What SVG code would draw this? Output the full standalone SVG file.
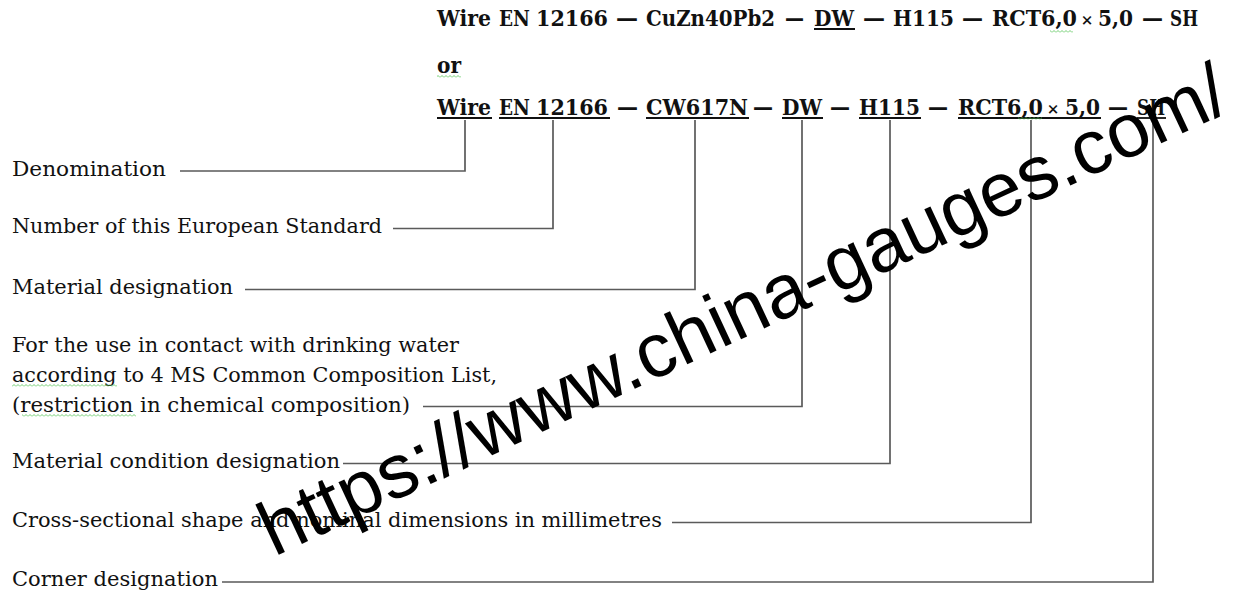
<svg xmlns="http://www.w3.org/2000/svg" width="1235" height="594" viewBox="0 0 1235 594">
<defs>
<style>
.b{font-family:"DejaVu Serif","Liberation Serif",serif;font-weight:bold;font-size:22px;fill:#111}
.r{font-family:"DejaVu Serif","Liberation Serif",serif;font-size:21px;fill:#111}
.x{font-family:"DejaVu Serif","Liberation Serif",serif;font-weight:bold;font-size:15px;fill:#111;text-anchor:middle}
.ul{stroke:#111;stroke-width:1.8}
.c{fill:none;stroke:#5a5a5a;stroke-width:1.7}
.wm{font-family:"Liberation Sans",Arial,sans-serif;font-size:76.5px;fill:#000}
</style>
<pattern id="sq" width="4" height="3" patternUnits="userSpaceOnUse">
<polyline points="0,2.5 2,0.5 4,2.5" fill="none" stroke="#4cc24c" stroke-width="0.8"/>
</pattern>
</defs>
<rect width="1235" height="594" fill="#fff"/>
<g id="designation-line-1">
<text class="b" x="437" y="26" textLength="54" lengthAdjust="spacingAndGlyphs">Wire</text>
<text class="b" x="499" y="26" textLength="31" lengthAdjust="spacingAndGlyphs">EN</text>
<text class="b" x="536" y="26" textLength="72" lengthAdjust="spacingAndGlyphs">12166</text>
<text class="b" x="616" y="26" textLength="22" lengthAdjust="spacingAndGlyphs">—</text>
<text class="b" x="646" y="26" textLength="129" lengthAdjust="spacingAndGlyphs">CuZn40Pb2</text>
<text class="b" x="785" y="26" textLength="19" lengthAdjust="spacingAndGlyphs">—</text>
<text class="b" x="814" y="26" textLength="40" lengthAdjust="spacingAndGlyphs">DW</text>
<line class="ul" x1="814" y1="29" x2="855" y2="29"/>
<text class="b" x="863" y="26" textLength="22" lengthAdjust="spacingAndGlyphs">—</text>
<text class="b" x="893" y="26" textLength="61" lengthAdjust="spacingAndGlyphs">H115</text>
<text class="b" x="962" y="26" textLength="21" lengthAdjust="spacingAndGlyphs">—</text>
<text class="b" x="992" y="26" textLength="85" lengthAdjust="spacingAndGlyphs">RCT6,0</text>
<text class="x" x="1087" y="25">×</text>
<text class="b" x="1098" y="26" textLength="35" lengthAdjust="spacingAndGlyphs">5,0</text>
<text class="b" x="1142" y="26" textLength="21" lengthAdjust="spacingAndGlyphs">—</text>
<text class="b" x="1170" y="26" textLength="28" lengthAdjust="spacingAndGlyphs">SH</text>
<rect x="1050" y="30" width="23" height="3" fill="url(#sq)"/>
</g>
<g id="or">
<text class="b" x="437" y="73" textLength="24" lengthAdjust="spacingAndGlyphs">or</text>
<rect x="437" y="75" width="24" height="3" fill="url(#sq)"/>
</g>
<g id="designation-line-2">
<text class="b" x="437" y="115" textLength="54" lengthAdjust="spacingAndGlyphs">Wire</text>
<line class="ul" x1="437" y1="118" x2="492" y2="118"/>
<text class="b" x="499" y="115" textLength="31" lengthAdjust="spacingAndGlyphs">EN</text>
<text class="b" x="536" y="115" textLength="72" lengthAdjust="spacingAndGlyphs">12166</text>
<line class="ul" x1="499" y1="118" x2="610" y2="118"/>
<text class="b" x="617" y="115" textLength="21" lengthAdjust="spacingAndGlyphs">—</text>
<text class="b" x="646" y="115" textLength="102" lengthAdjust="spacingAndGlyphs">CW617N</text>
<line class="ul" x1="646" y1="118" x2="749" y2="118"/>
<text class="b" x="753" y="115" textLength="20" lengthAdjust="spacingAndGlyphs">—</text>
<text class="b" x="782" y="115" textLength="40" lengthAdjust="spacingAndGlyphs">DW</text>
<line class="ul" x1="782" y1="118" x2="823" y2="118"/>
<text class="b" x="830" y="115" textLength="20" lengthAdjust="spacingAndGlyphs">—</text>
<text class="b" x="859" y="115" textLength="61" lengthAdjust="spacingAndGlyphs">H115</text>
<line class="ul" x1="859" y1="118" x2="921" y2="118"/>
<text class="b" x="928" y="115" textLength="20" lengthAdjust="spacingAndGlyphs">—</text>
<text class="b" x="958" y="115" textLength="85" lengthAdjust="spacingAndGlyphs">RCT6,0</text>
<text class="x" x="1053" y="114">×</text>
<text class="b" x="1065" y="115" textLength="35" lengthAdjust="spacingAndGlyphs">5,0</text>
<line class="ul" x1="958" y1="118" x2="1101" y2="118"/>
<rect x="1018" y="117" width="24" height="3" fill="url(#sq)"/>
<text class="b" x="1108" y="115" textLength="20" lengthAdjust="spacingAndGlyphs">—</text>
<text class="b" x="1137" y="115" textLength="28" lengthAdjust="spacingAndGlyphs">SH</text>
<line class="ul" x1="1137" y1="118" x2="1166" y2="118"/>
</g>
<g id="connectors">
<path class="c" d="M180 171 H465 V120"/>
<path class="c" d="M393 228.5 H553 V120"/>
<path class="c" d="M245 289.5 H695 V120"/>
<path class="c" d="M423 406.5 H802 V120"/>
<path class="c" d="M343 463.5 H890 V120"/>
<path class="c" d="M672 522.5 H1031 V120"/>
<path class="c" d="M222 582 H1153 V120"/>
</g>
<g id="label-denomination">
<text class="r" x="12" y="175.5" textLength="154" lengthAdjust="spacingAndGlyphs">Denomination</text>
</g>
<g id="label-standard">
<text class="r" x="12" y="232.5" textLength="370" lengthAdjust="spacingAndGlyphs">Number of this European Standard</text>
</g>
<g id="label-material">
<text class="r" x="12" y="293.5" textLength="221" lengthAdjust="spacingAndGlyphs">Material designation</text>
</g>
<g id="label-drinking-water">
<text class="r" x="12" y="351.5" textLength="447" lengthAdjust="spacingAndGlyphs">For the use in contact with drinking water</text>
<text class="r" x="12" y="381.5" textLength="485" lengthAdjust="spacingAndGlyphs">according to 4 MS Common Composition List,</text>
<text class="r" x="12" y="411.5" textLength="398" lengthAdjust="spacingAndGlyphs">(restriction in chemical composition)</text>
<rect x="12" y="384" width="105" height="3" fill="url(#sq)"/>
<rect x="22" y="414" width="114" height="3" fill="url(#sq)"/>
</g>
<g id="label-condition">
<text class="r" x="12" y="467.5" textLength="328" lengthAdjust="spacingAndGlyphs">Material condition designation</text>
</g>
<g id="label-cross-section">
<text class="r" x="12" y="526.5" textLength="650" lengthAdjust="spacingAndGlyphs">Cross-sectional shape and nominal dimensions in millimetres</text>
</g>
<g id="label-corner">
<text class="r" x="12" y="586" textLength="206" lengthAdjust="spacingAndGlyphs">Corner designation</text>
</g>
<g id="watermark">
<text class="wm" transform="translate(274 557) rotate(-25)" x="0" y="0">https://www.china-gauges.com/</text>
</g>
</svg>
